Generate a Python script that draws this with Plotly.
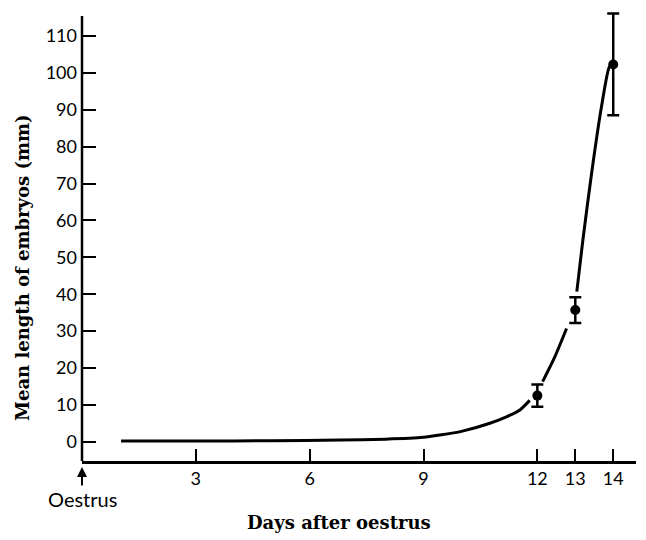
import plotly.graph_objects as go

# Observed means with error bars
days = [12, 13, 14]
mean_len = [12.5, 35.7, 102.3]
err = [3.0, 3.5, 13.8]

# Fitted growth curve; None marks breaks around the points
curve_days = [1.03, 3, 5, 6.8, 8, 9, 9.43, 10, 10.75, 11.2, 11.54, 11.8,
              None,
              12.14, 12.46, 12.77,
              None,
              13.04, 13.2, 13.43, 13.69, 13.9, 14.0]
curve_len = [0.2, 0.2, 0.25, 0.45, 0.7, 1.2, 1.8, 2.8, 5.0, 6.8, 8.6, 11.2,
             None,
             16.3, 23.0, 30.7,
             None,
             40.7, 54.7, 72.8, 90.8, 101.7, 102.3]

x_ticks = [3, 6, 9, 12, 13, 14]
y_ticks = list(range(0, 111, 10))

fig = go.Figure()
fig.add_trace(go.Scatter(
    x=curve_days, y=curve_len, mode="lines",
    line=dict(color="black", width=3, shape="spline", smoothing=0.6),
    connectgaps=False, hoverinfo="skip", showlegend=False))
fig.add_trace(go.Scatter(
    x=days, y=mean_len, mode="markers", cliponaxis=False,
    marker=dict(color="black", size=10),
    error_y=dict(type="data", array=err, color="black", thickness=2.5, width=6),
    showlegend=False))

tick_font = dict(family="Lato", size=18, color="black")
fig.update_xaxes(
    range=[0, 14.6], tickvals=x_ticks, ticktext=[str(v) for v in x_ticks],
    ticks="inside", ticklen=12, tickwidth=2, tickcolor="black",
    showline=True, linecolor="black", linewidth=2.5, showgrid=False,
    zeroline=False, tickfont=tick_font)
fig.update_yaxes(
    range=[-5.23, 117.06], tickvals=y_ticks,
    ticks="inside", ticklen=14, tickwidth=2, tickcolor="black",
    showline=False, showgrid=False,
    zeroline=False, tickfont=tick_font, ticklabelstandoff=4)

# page body has an 8px margin; plot area in page coords: x 82..636, y 10..461
L, T, W, H = 74, 2, 554, 451
# y axis line drawn only up to page y=16, as in the original
fig.add_shape(type="line", xref="paper", yref="paper", x0=0, x1=0,
              y0=0, y1=(461 - 16) / H, line=dict(color="black", width=2.5))

title_font = dict(family="DejaVu Serif", size=18, color="black")
fig.add_annotation(text="<b>Days after oestrus</b>", xref="paper", yref="paper",
                   x=(339 - 82) / W, y=-(522 - 461) / H, showarrow=False,
                   font=title_font, xanchor="center", yanchor="middle")
fig.add_annotation(text="<b>Mean length of embryos (mm)</b>", xref="paper", yref="paper",
                   x=-(82 - 22) / W, y=(461 - 268) / H, showarrow=False,
                   textangle=-90, font=title_font, xanchor="center", yanchor="middle")
fig.add_annotation(text="Oestrus", xref="x", yref="paper",
                   x=0, y=-(467 - 461) / H, ax=0, ay=32,
                   showarrow=True, arrowhead=2, arrowsize=1, arrowwidth=2,
                   arrowcolor="black", font=dict(family="Lato", size=20, color="black"))

fig.update_layout(
    width=638, height=531,
    margin=dict(l=L, r=10, t=T, b=531 - T - H),
    plot_bgcolor="white", paper_bgcolor="white")

fig.write_html("out.html")
